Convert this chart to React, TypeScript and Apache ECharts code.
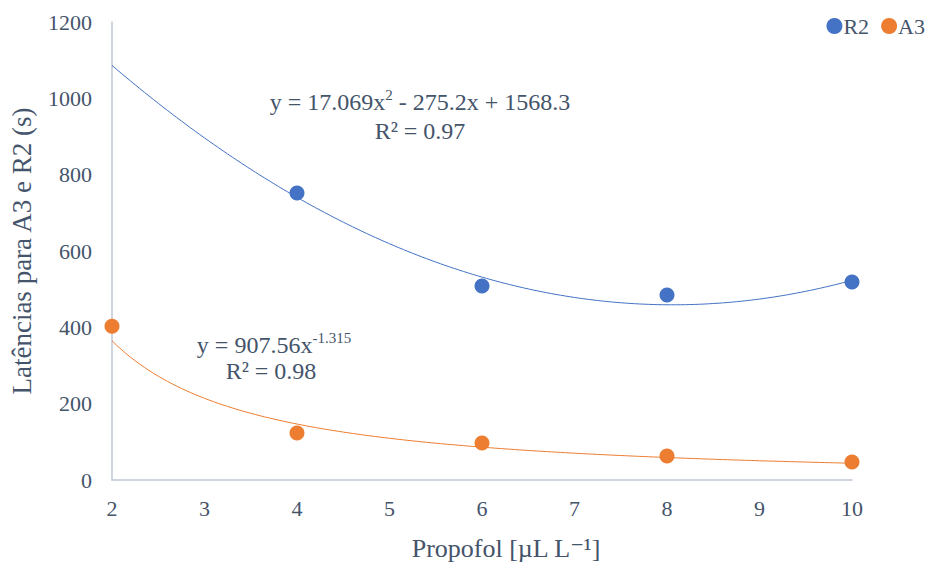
import React, { useEffect, useRef } from "react";
import * as echarts from "echarts";

// Measured latencies (s) at each propofol dose (µL L⁻¹)
const r2Doses = [4, 6, 8, 10];
const r2Values = [752, 508, 485, 519];
const a3Doses = [2, 4, 6, 8, 10];
const a3Values = [403, 123, 97, 63, 47];

// Fitted trend lines as printed on the chart
const r2Quadratic = [17.069, -275.2, 1568.3]; // a·x² + b·x + c
const a3Power = [907.56, -1.315]; // k·x^p
const trendSteps = [2, 10, 0.05];

const xTicks = [2, 10, 1];
const yTicks = [0, 1200, 200];

const BLUE = "#4472C4";
const ORANGE = "#ED7D31";
const TEXT = "#44546A";
const FONT = "Liberation Serif, Times New Roman, DejaVu Serif, serif";

function sampleTrend(fn: (x: number) => number): number[][] {
  const [from, to, step] = trendSteps;
  const out: number[][] = [];
  const n = Math.round((to - from) / step);
  for (let i = 0; i <= n; i++) {
    const x = from + i * step;
    out.push([x, fn(x)]);
  }
  return out;
}

export default function App() {
  const ref = useRef<HTMLDivElement>(null);

  useEffect(() => {
    if (!ref.current) return;
    const chart = echarts.init(ref.current, undefined, { renderer: "svg" });

    const [qa, qb, qc] = r2Quadratic;
    const [pk, pp] = a3Power;
    const r2Trend = sampleTrend((x) => qa * x * x + qb * x + qc);
    const a3Trend = sampleTrend((x) => pk * Math.pow(x, pp));

    const rich = {
      n: { fontFamily: FONT, fontSize: 24, fill: TEXT, color: TEXT, lineHeight: 30 },
      sup: { fontFamily: FONT, fontSize: 15, fill: TEXT, color: TEXT, verticalAlign: "top", lineHeight: 30, padding: [0, 0, 12, 0] },
    };

    const label = (text: string, x: number, y: number) => ({
      type: "text",
      x,
      y,
      style: { text, fontFamily: FONT, fontSize: 24, fill: TEXT, align: "center", verticalAlign: "middle" },
    });

    const equation = (text: string, x: number, y: number) => ({
      type: "text",
      x,
      y,
      style: { text, rich, fontFamily: FONT, fontSize: 24, fill: TEXT, align: "center", verticalAlign: "middle" },
    });

    chart.setOption({
      animation: false,
      backgroundColor: "#ffffff",
      textStyle: { fontFamily: FONT },
      grid: { left: 112, right: 84, top: 22, bottom: 82 },
      legend: {
        data: ["R2", "A3"],
        top: 10,
        right: 6,
        icon: "circle",
        itemWidth: 16,
        itemHeight: 16,
        itemGap: 12,
        textStyle: { fontFamily: FONT, fontSize: 22, color: TEXT, padding: [0, 0, 0, -4] },
      },
      xAxis: {
        type: "value",
        min: xTicks[0],
        max: xTicks[1],
        interval: xTicks[2],
        axisLine: { show: true, lineStyle: { color: "#BFC8D6", width: 1.5 } },
        axisTick: { show: false },
        splitLine: { show: false },
        axisLabel: { color: TEXT, fontSize: 22, fontFamily: FONT, margin: 17, formatter: (v: number) => String(v) },
      },
      yAxis: {
        type: "value",
        min: yTicks[0],
        max: yTicks[1],
        interval: yTicks[2],
        axisLine: { show: true, lineStyle: { color: "#BFC8D6", width: 1.5 } },
        axisTick: { show: false },
        splitLine: { show: false },
        axisLabel: { color: TEXT, fontSize: 22, fontFamily: FONT, margin: 20, formatter: (v: number) => String(v) },
      },
      series: [
        {
          name: "R2 trend",
          type: "line",
          data: r2Trend,
          showSymbol: false,
          silent: true,
          lineStyle: { color: BLUE, width: 1 },
          z: 1,
        },
        {
          name: "A3 trend",
          type: "line",
          data: a3Trend,
          showSymbol: false,
          silent: true,
          lineStyle: { color: ORANGE, width: 1 },
          z: 1,
        },
        {
          name: "R2",
          type: "scatter",
          data: r2Doses.map((x, i) => [x, r2Values[i]]),
          symbolSize: 15,
          itemStyle: { color: BLUE, opacity: 1 },
          z: 3,
        },
        {
          name: "A3",
          type: "scatter",
          data: a3Doses.map((x, i) => [x, a3Values[i]]),
          symbolSize: 15,
          itemStyle: { color: ORANGE, opacity: 1 },
          z: 3,
        },
      ],
      graphic: [
        equation("{n|y = 17.069x}{sup|2}{n| - 275.2x + 1568.3}", 420, 102),
        label("R² = 0.97", 420, 131),
        equation("{n|y = 907.56x}{sup|-1.315}", 274, 345),
        label("R² = 0.98", 271, 371),
        {
          type: "text",
          x: 506,
          y: 548,
          style: { text: "Propofol [µL L⁻¹]", fontFamily: FONT, fontSize: 26, fill: TEXT, align: "center", verticalAlign: "middle" },
        },
        {
          type: "text",
          x: 22,
          y: 251,
          rotation: Math.PI / 2,
          style: { text: "Latências para A3 e R2 (s)", fontFamily: FONT, fontSize: 27, fill: TEXT, align: "center", verticalAlign: "middle" },
        },
      ],
    });

    return () => chart.dispose();
  }, []);

  return (
    <div
      ref={ref}
      style={{ position: "fixed", left: 0, top: 0, width: 936, height: 562 }}
    />
  );
}
